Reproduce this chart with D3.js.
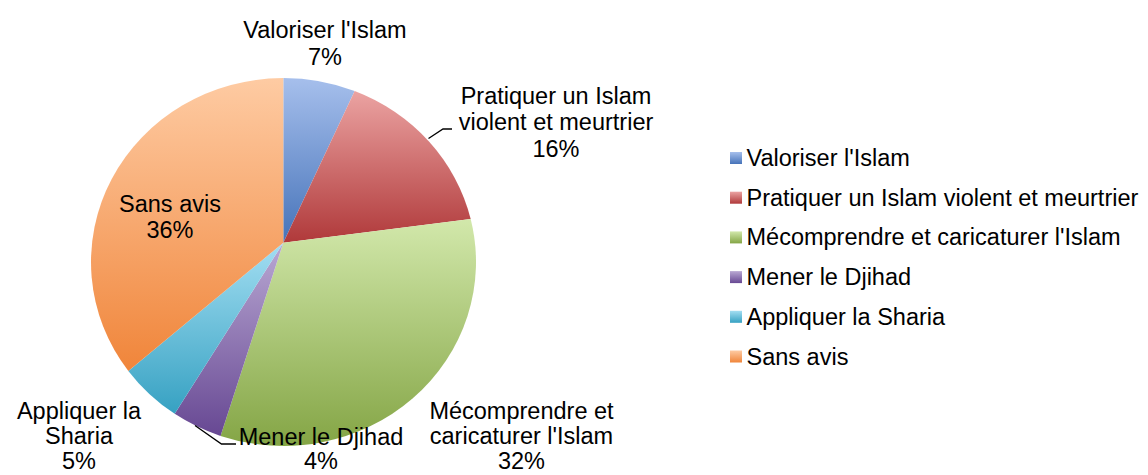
<!DOCTYPE html>
<html>
<head>
<meta charset="utf-8">
<script src="https://cdn.jsdelivr.net/npm/d3@7"></script>
<style>
  html, body { margin: 0; padding: 0; background: #ffffff; }
  svg { display: block; }
  text { font-family: "Liberation Sans", Arial, sans-serif; fill: #000; }
</style>
</head>
<body>
<svg id="chart" width="1148" height="475"></svg>
<script>
// ---- data ----
const categories = [
  "Valoriser l'Islam",
  "Pratiquer un Islam violent et meurtrier",
  "Mécomprendre et caricaturer l'Islam",
  "Mener le Djihad",
  "Appliquer la Sharia",
  "Sans avis"
];
const values = [7, 16, 32, 4, 5, 36];
const labelLines = [
  ["Valoriser l'Islam"],
  ["Pratiquer un Islam", "violent et meurtrier"],
  ["Mécomprendre et", "caricaturer l'Islam"],
  ["Mener le Djihad"],
  ["Appliquer la", "Sharia"],
  ["Sans avis"]
];
const lightColors = ["#a6bfec", "#eba3a2", "#d2e8ab", "#b9a8d3", "#a3def2", "#fecba3"];
const darkColors  = ["#4673b9", "#b0393a", "#84a545", "#674893", "#36a1c2", "#f0853a"];

// ---- layout ----
const apex = { x: 283.3, y: 242.7 };
const ell = { cx: 283.5, cy: 262, rx: 192.5, ry: 184 };
const fontSize = 23.5;
const labelLayout = [
  { x: 325, y: 37.5, lh: 27 },
  { x: 556, y: 103.5, lh: 26.8 },
  { x: 521.5, y: 419, lh: 25 },
  { x: 321, y: 444.5, lh: 24.5 },
  { x: 79, y: 419, lh: 25 },
  { x: 170, y: 211.5, lh: 26 }
];
const leaders = [
  null,
  [[428.5, 138.5], [443, 129], [452, 129]],
  null,
  [[195, 425.5], [221.5, 444], [236, 444]],
  null,
  null
];
const legend = { x: 730, y: 152, sw: 12, textX: 746.5, step: 39.7 };

const svg = d3.select("#chart");
const defs = svg.append("defs");

categories.forEach((c, i) => {
  const g = defs.append("linearGradient")
    .attr("id", "grad" + i)
    .attr("x1", 0).attr("y1", 0).attr("x2", 0).attr("y2", 1);
  g.append("stop").attr("offset", "0%").attr("stop-color", lightColors[i]);
  g.append("stop").attr("offset", "100%").attr("stop-color", darkColors[i]);
});

const pie = d3.pie().sort(null).value(d => d.value);
const arcs = pie(values.map((v, i) => ({ value: v, i })));

function edgePoint(theta) {
  const dx = Math.sin(theta), dy = -Math.cos(theta);
  const px = (apex.x - ell.cx) / ell.rx, py = (apex.y - ell.cy) / ell.ry;
  const qx = dx / ell.rx, qy = dy / ell.ry;
  const a = qx * qx + qy * qy;
  const b = 2 * (px * qx + py * qy);
  const c = px * px + py * py - 1;
  const t = (-b + Math.sqrt(b * b - 4 * a * c)) / (2 * a);
  return [apex.x + t * dx, apex.y + t * dy];
}
function ellAngle(p) {
  return Math.atan2((p[1] - ell.cy) / ell.ry, (p[0] - ell.cx) / ell.rx);
}
function slicePath(d) {
  const p0 = edgePoint(d.startAngle), p1 = edgePoint(d.endAngle);
  let delta = ellAngle(p1) - ellAngle(p0);
  while (delta < 0) delta += 2 * Math.PI;
  const large = delta > Math.PI ? 1 : 0;
  return `M${apex.x},${apex.y}L${p0[0]},${p0[1]}A${ell.rx},${ell.ry} 0 ${large} 1 ${p1[0]},${p1[1]}Z`;
}

svg.append("g").selectAll("path")
  .data(arcs)
  .join("path")
  .attr("d", slicePath)
  .attr("fill", d => `url(#grad${d.data.i})`);

// leader lines
svg.append("g").selectAll("path")
  .data(leaders.filter(l => l))
  .join("path")
  .attr("d", d => d3.line()(d))
  .attr("fill", "none")
  .attr("stroke", "#000")
  .attr("stroke-width", 1.3);

// data labels
const total = d3.sum(values);
const lbl = svg.append("g");
arcs.forEach((d, i) => {
  const lines = labelLines[i].concat([Math.round(d.data.value / total * 100) + "%"]);
  const lay = labelLayout[i];
  lines.forEach((t, k) => {
    lbl.append("text")
      .attr("x", lay.x)
      .attr("y", lay.y + k * lay.lh)
      .attr("text-anchor", "middle")
      .attr("font-size", fontSize)
      .text(t);
  });
});

// legend
const lg = svg.append("g");
categories.forEach((c, i) => {
  lg.append("rect")
    .attr("x", legend.x)
    .attr("y", legend.y + i * legend.step)
    .attr("width", legend.sw)
    .attr("height", legend.sw)
    .attr("fill", `url(#grad${i})`);
  lg.append("text")
    .attr("x", legend.textX)
    .attr("y", legend.y + 14 + i * legend.step)
    .attr("font-size", fontSize)
    .text(c);
});
</script>
</body>
</html>
